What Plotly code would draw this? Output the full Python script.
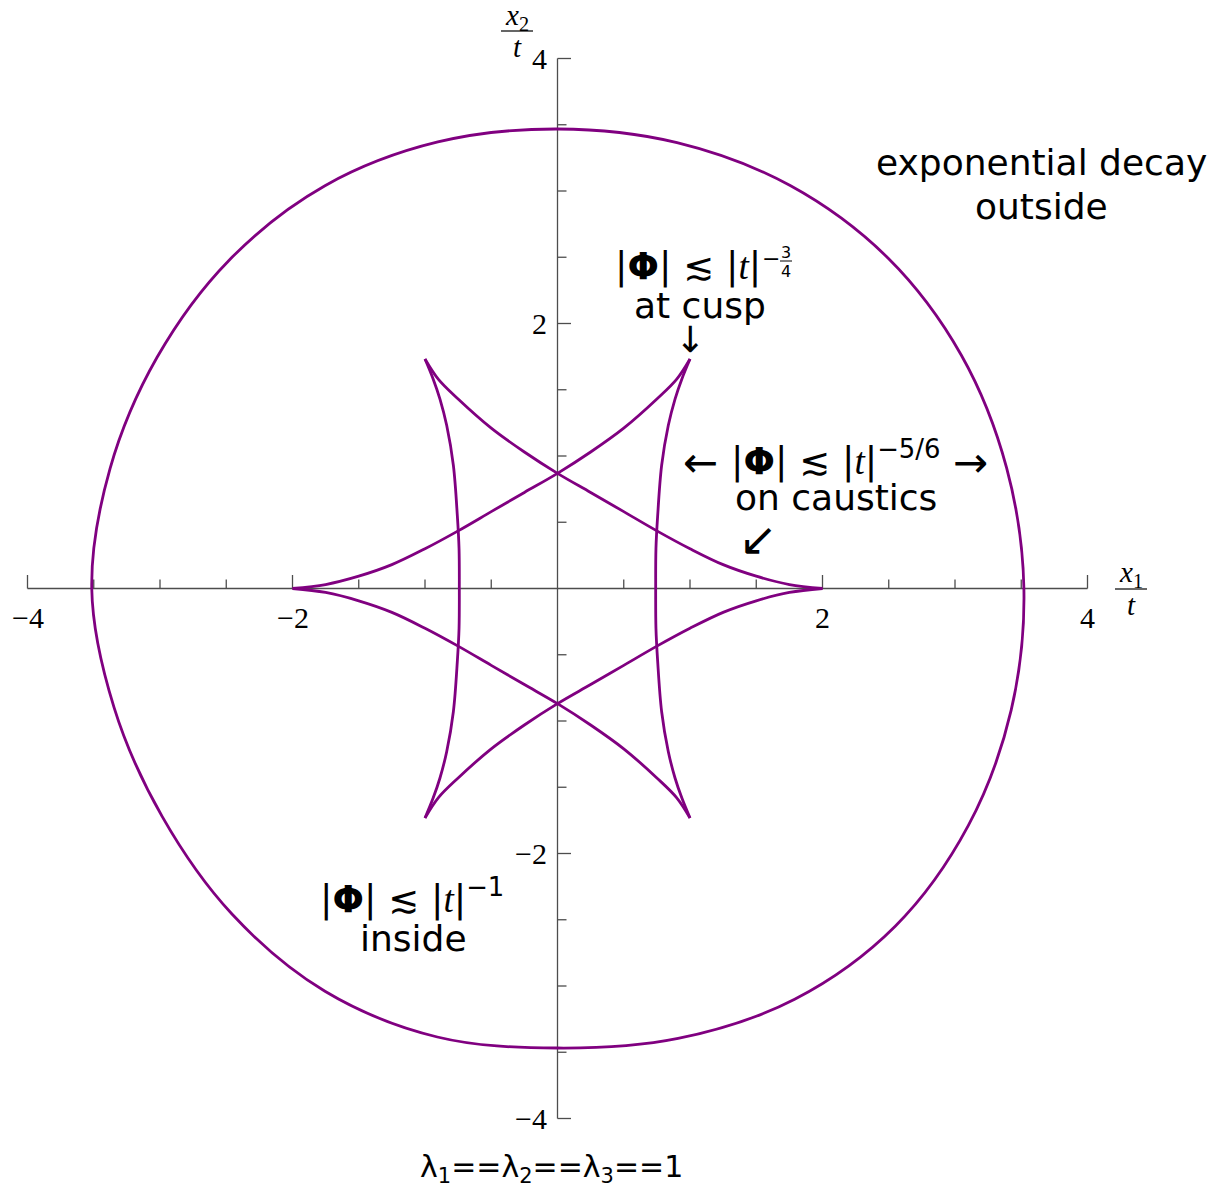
import plotly.graph_objects as go

# ---------------- data ----------------
# outer wave-front boundary (closed curve, first point repeated at the end), in units of x/t
outer_x = [3.520, 3.390, 3.048, 2.494, 1.756, 0.902, 0.000, -0.903, -1.755, -2.478, -3.022, -3.377,
           -3.515, -3.347, -2.983, -2.457, -1.755, -0.907, 0.000, 0.910, 1.790, 2.549, 3.100, 3.424, 3.520]
outer_y = [0.000, 0.908, 1.760, 2.494, 3.041, 3.365, 3.468, 3.370, 3.040, 2.478, 1.745, 0.905,
           0.000, -0.897, -1.722, -2.457, -3.040, -3.385, -3.468, -3.396, -3.100, -2.549, -1.790, -0.918, 0.000]

# caustic A: cusps at (2,0), (-1,1.732), (-1,-1.732)
caus_a_up_x = [2.0, 1.75, 1.5, 1.25, 1.0, 0.75, 0.5, 0.25, 0.0, -0.25, -0.5, -0.75, -0.9, -1.0]
caus_a_up_y = [0.0, 0.03, 0.093, 0.18, 0.30, 0.435, 0.58, 0.725, 0.869, 1.03, 1.21, 1.43, 1.58, 1.732]
caus_a_lo_x = [2.0, 1.75, 1.5, 1.25, 1.0, 0.75, 0.5, 0.25, 0.0, -0.25, -0.5, -0.75, -0.9, -1.0]
caus_a_lo_y = [0.0, -0.03, -0.093, -0.18, -0.30, -0.435, -0.58, -0.725, -0.869, -1.03, -1.21, -1.43, -1.58, -1.732]
caus_a_side_x = [-1.0, -0.938, -0.887, -0.836, -0.786, -0.756, -0.743, -0.741,
                 -0.743, -0.756, -0.786, -0.836, -0.887, -0.938, -1.0]
caus_a_side_y = [1.732, 1.58, 1.43, 1.23, 0.93, 0.55, 0.3, 0.0,
                 -0.3, -0.55, -0.93, -1.23, -1.43, -1.58, -1.732]

# caustic B: cusps at (-2,0), (1,1.732), (1,-1.732)
caus_b_up_x = [-2.0, -1.75, -1.5, -1.25, -1.0, -0.75, -0.5, -0.25, 0.0, 0.25, 0.5, 0.75, 0.9, 1.0]
caus_b_up_y = [0.0, 0.03, 0.093, 0.18, 0.30, 0.435, 0.58, 0.725, 0.869, 1.03, 1.21, 1.43, 1.58, 1.732]
caus_b_lo_x = [-2.0, -1.75, -1.5, -1.25, -1.0, -0.75, -0.5, -0.25, 0.0, 0.25, 0.5, 0.75, 0.9, 1.0]
caus_b_lo_y = [0.0, -0.03, -0.093, -0.18, -0.30, -0.435, -0.58, -0.725, -0.869, -1.03, -1.21, -1.43, -1.58, -1.732]
caus_b_side_x = [1.0, 0.938, 0.887, 0.836, 0.786, 0.756, 0.743, 0.741,
                 0.743, 0.756, 0.786, 0.836, 0.887, 0.938, 1.0]
caus_b_side_y = [1.732, 1.58, 1.43, 1.23, 0.93, 0.55, 0.3, 0.0,
                 -0.3, -0.55, -0.93, -1.23, -1.43, -1.58, -1.732]

# axis ticks
major_ticks = [-4, -2, 2, 4]
minor_ticks = [-3.5, -3, -2.5, -1.5, -1, -0.5, 0.5, 1, 1.5, 2.5, 3, 3.5]
tick_labels = ["\u22124", "\u22122", "2", "4"]

# ---------------- geometry ----------------
W, H = 1215, 1190
L, R, T, B = 1, 101, 32, 45
XR = [-4.2, 4.2]
YR = [-4.2, 4.2]
PW, PH = W - L - R, H - T - B

PURPLE = "#800080"
AXIS = "#4d4d4d"
SANS = "DejaVu Sans"
SERIF = "Liberation Serif"

PX_PER_UNIT = PW / (XR[1] - XR[0])
MAJ_LEN = 13.5 / PX_PER_UNIT
MIN_LEN = 9.0 / PX_PER_UNIT


def paper(px, py):
    return (px - L) / PW, 1 - (py - T) / PH


fig = go.Figure()

# axes through the origin
fig.add_trace(go.Scatter(x=[-4, 4], y=[0, 0], mode="lines",
                         line=dict(color=AXIS, width=1.3), hoverinfo="skip"))
fig.add_trace(go.Scatter(x=[0, 0], y=[-4, 4], mode="lines",
                         line=dict(color=AXIS, width=1.3), hoverinfo="skip"))

tx, ty = [], []
for v in major_ticks + minor_ticks:
    ln = MAJ_LEN if v in major_ticks else MIN_LEN
    tx += [v, v, None, 0, ln, None]
    ty += [0, ln, None, v, v, None]
fig.add_trace(go.Scatter(x=tx, y=ty, mode="lines",
                         line=dict(color=AXIS, width=1.3), hoverinfo="skip"))

# wave front and caustics
curves = [(outer_x, outer_y),
          (caus_a_up_x, caus_a_up_y), (caus_a_lo_x, caus_a_lo_y), (caus_a_side_x, caus_a_side_y),
          (caus_b_up_x, caus_b_up_y), (caus_b_lo_x, caus_b_lo_y), (caus_b_side_x, caus_b_side_y)]
for cx, cy in curves:
    fig.add_trace(go.Scatter(x=cx, y=cy, mode="lines",
                             line=dict(color=PURPLE, width=2.8, shape="spline", smoothing=1.0),
                             hoverinfo="skip"))

ann = []
for v, lab in zip(major_ticks, tick_labels):
    ann.append(dict(x=v, y=0, xref="x", yref="y", text=lab, showarrow=False,
                    xanchor="center", yanchor="middle", yshift=-29,
                    font=dict(family=SERIF, size=30, color="black")))
    ann.append(dict(x=0, y=v, xref="x", yref="y", text=lab, showarrow=False,
                    xanchor="right", yanchor="middle", xshift=-9,
                    font=dict(family=SERIF, size=30, color="black")))


def txt(px, py, s, size=36, family=SANS, xanchor="center"):
    xp, yp = paper(px, py)
    ann.append(dict(x=xp, y=yp, xref="paper", yref="paper", text=s, showarrow=False,
                    xanchor=xanchor, yanchor="middle",
                    font=dict(family=family, size=size, color="black")))


shapes = []


def hbar(x0, x1, yy, w=1.2):
    a0, b0 = paper(x0, yy)
    a1, _ = paper(x1, yy)
    shapes.append(dict(type="line", xref="paper", yref="paper", x0=a0, x1=a1, y0=b0, y1=b0,
                       line=dict(color="black", width=w)))


# axis names as fractions x/t
txt(517, 17, "<i>x</i><sub>2</sub>", size=29, family=SERIF)
txt(517, 47, "<i>t</i>", size=29, family=SERIF)
hbar(501, 533, 31)
txt(1131, 574, "<i>x</i><sub>1</sub>", size=29, family=SERIF)
txt(1131, 605, "<i>t</i>", size=29, family=SERIF)
hbar(1115, 1147, 589)

PHI = "|<b>\u03a6</b>| \u2272 |<span style='font-family:Liberation Serif'><i>t</i></span>|"

# annotations in the plane
txt(1041, 163, "exponential decay")
txt(1041, 207, "outside")

txt(688, 266, PHI, size=37)
txt(771, 258, "\u2212", size=22)
txt(786, 252, "3", size=16)
txt(786, 271, "4", size=16)
hbar(780, 792, 261, w=1)
txt(700, 306, "at cusp")
txt(690, 340, "\u2193", size=36)

txt(700, 462, "\u2190", size=42)
txt(836, 458, PHI + "<sup>\u22125/6</sup>", size=37)
txt(970, 462, "\u2192", size=42)
txt(836, 497, "on caustics")
txt(758, 539, "\u2199", size=46)

txt(412, 896, PHI + "<sup>\u22121</sup>", size=37)
txt(413, 938, "inside")

txt(551, 1168, "\u03bb<sub>1</sub>==\u03bb<sub>2</sub>==\u03bb<sub>3</sub>==1", size=30)

fig.update_layout(
    width=W, height=H,
    margin=dict(l=L, r=R, t=T, b=B, pad=0),
    paper_bgcolor="white", plot_bgcolor="white",
    showlegend=False,
    xaxis=dict(range=XR, visible=False, fixedrange=True),
    yaxis=dict(range=YR, visible=False, fixedrange=True),
    annotations=ann, shapes=shapes,
)

fig.write_html("out.html")
